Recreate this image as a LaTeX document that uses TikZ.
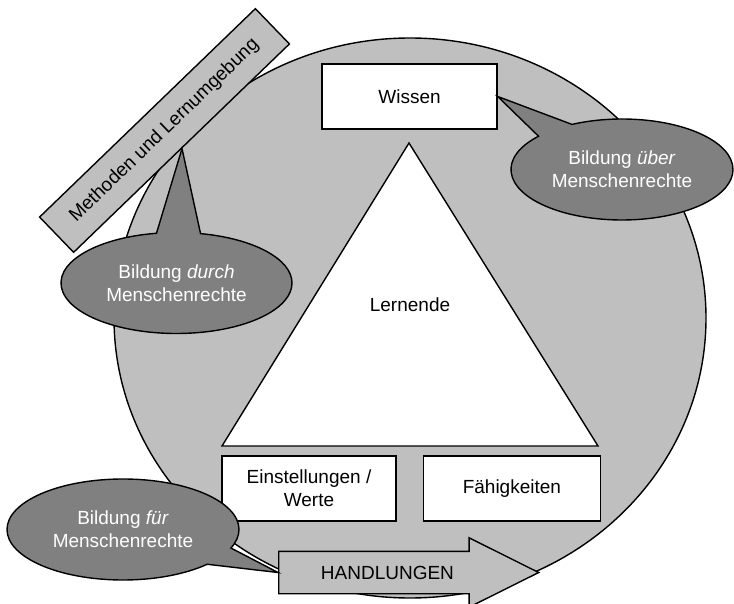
\documentclass[tikz,border=0pt]{standalone}
\usepackage{fontspec}
\setmainfont{Liberation Sans}
\usetikzlibrary{positioning}
\usetikzlibrary{shapes.geometric}
\usetikzlibrary{shapes.callouts}
\usetikzlibrary{shapes.arrows}
\definecolor{lightgrey}{gray}{0.75}
\definecolor{darkgrey}{gray}{0.5}
\tikzset {
  base/.style = {
    draw = black,
    line width = 1.4pt,
    font = \fontsize{19pt}{23pt}\selectfont
  },
  % plain text without frame
  txt/.style = {
    font = \fontsize{19pt}{23pt}\selectfont
  },
  % large grey circle in the background
  ring/.style = {
    base,
    ellipse,
    fill = lightgrey,
    minimum width = 592pt,
    minimum height = 560pt
  },
  % white boxes round the triangle
  box/.style = {
    base,
    rectangle,
    fill = white,
    align = center,
    minimum width = 175pt,
    minimum height = 65pt
  },
  tri/.style = {
    base,
    fill = white,
    line join = miter
  },
  % grey bar, turned
  bar/.style = {
    base,
    rectangle,
    fill = lightgrey,
    minimum width = 300pt,
    minimum height = 49pt
  },
  % action arrow
  pfeil/.style = {
    base,
    single arrow,
    fill = lightgrey,
    single arrow head extend = 13.5pt,
    single arrow head indent = 0pt,
    single arrow tip angle = 53,
    minimum height = 260pt,
    minimum width = 68pt,
    text height = 13.5pt,
    text depth = 0pt,
    inner xsep = 0pt,
    inner ysep = 13.75pt
  },
  % dark speech bubbles
  bubble/.style = {
    base,
    ellipse callout,
    fill = darkgrey,
    text = white,
    align = center,
    inner sep = 0pt,
    callout pointer arc = 22,
    minimum width = 231pt,
    minimum height = 101pt
  }
}
\begin{document}
\begin{tikzpicture}[x = 1pt, y = -1pt]
    \useasboundingbox (0,0) rectangle (734,604);
    \node[ring] (ring) at (410,318) {};
    \node[box] (wissen) at (409.5,96.5) {Wissen};
    \draw[tri] (409,143) -- (222,446) -- (598,446) -- cycle;
    \node[txt] (lernende) at (410,305) {Lernende};
    \node[box, minimum width = 174pt] (einstellungen) at (309,488.5) {Einstellungen /\\Werte};
    \node[box, minimum width = 177pt] (faehigkeiten) [right=26pt of einstellungen] {Fähigkeiten};
    \node[pfeil, anchor = tail] (handlungen) at (278,572.5) {HANDLUNGEN};
    \node[bar, rotate = 44] (methoden) at (164.5,130.5) {Methoden und Lernumgebung};

    \node[bubble, minimum width = 222pt, callout absolute pointer = {(wissen.east)}] (ueber) at (622,169.5) {Bildung \textit{über}\\Menschenrechte};
    \node[bubble, callout absolute pointer = {(methoden.south)}] (durch) at (176.5,283) {Bildung \textit{durch}\\Menschenrechte};
    \node[bubble, minimum width = 232pt, callout absolute pointer = {(handlungen.tail)}] (fuer) at (123,529.5) {Bildung \textit{für}\\Menschenrechte};
  \end{tikzpicture}
\end{document}
